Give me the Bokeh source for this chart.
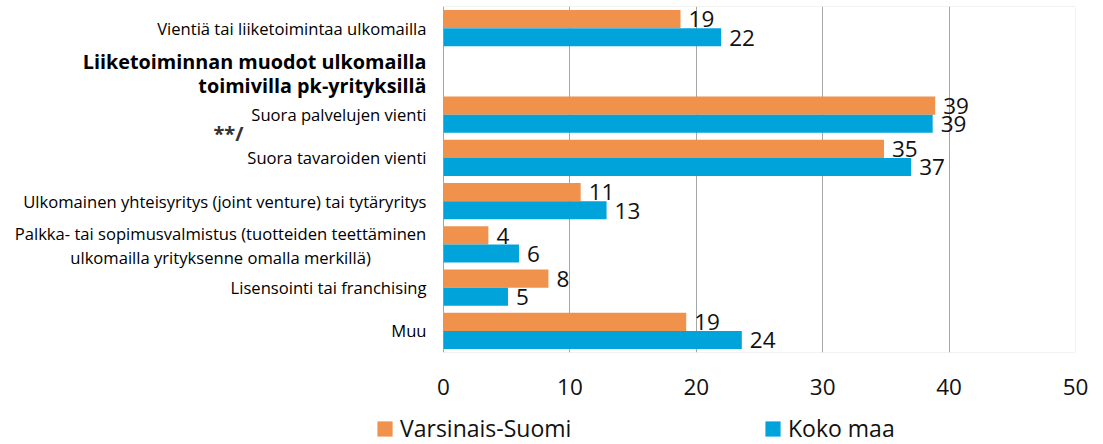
from bokeh.plotting import figure
from bokeh.layouts import column
from bokeh.models import (ColumnDataSource, FactorRange, Range1d, BoxAnnotation,
                          Legend, LegendItem, FixedTicker)
from bokeh.transform import dodge
from bokeh.embed import file_html
from bokeh.resources import INLINE
from bokeh.core.properties import value

# ---- data ----
categories = [
    "Vientiä tai liiketoimintaa ulkomailla",
    "Suora palvelujen vienti",
    "Suora tavaroiden vienti",
    "Ulkomainen yhteisyritys (joint venture) tai tytäryritys",
    "Palkka- tai sopimusvalmistus",
    "Lisensointi tai franchising",
    "Muu",
]
blank_slot = " "
slot_order = [categories[0], blank_slot] + categories[1:]
palkka_lines = ["Palkka- tai sopimusvalmistus (tuotteiden teettäminen",
                "ulkomailla yrityksenne omalla merkillä)"]
group_title = ["Liiketoiminnan muodot ulkomailla", "toimivilla pk-yrityksillä"]
note_text = "**/"

varsinais_suomi = [18.75, 38.9, 34.85, 10.85, 3.55, 8.3, 19.2]
koko_maa = [21.97, 38.7, 37.0, 12.9, 5.97, 5.1, 23.6]
series_names = ["Varsinais-Suomi", "Koko maa"]
x_ticks = [0, 10, 20, 30, 40, 50]
x_min, x_max = 0, 50
label_area = -35.05   # room for the category texts left of zero

ORANGE = "#F0924B"
BLUE = "#00A3DA"
FONT = "Open Sans"
CAT_SIZE = "16.6px"

src = ColumnDataSource(dict(
    cat=categories,
    vs=varsinais_suomi,
    km=koko_maa,
    vs_lbl=["%.0f" % v for v in varsinais_suomi],
    km_lbl=["%.0f" % v for v in koko_maa],
))

p = figure(width=1103, height=406, output_backend="svg", toolbar_location=None,
           x_range=Range1d(label_area, x_max),
           y_range=FactorRange(factors=slot_order[::-1]),
           min_border_left=0, min_border_right=28, min_border_top=6,
           min_border_bottom=54)
p.background_fill_color = "white"
p.border_fill_color = "white"
p.outline_line_color = None

p.add_layout(BoxAnnotation(left=x_min, right=x_max, fill_alpha=0,
                           line_color="#a6a6a6", line_width=1))

r_vs = p.hbar(y=dodge("cat", 0.21, range=p.y_range), right="vs", left=0,
              height=0.42, source=src, fill_color=ORANGE, line_color=None)
r_km = p.hbar(y=dodge("cat", -0.21, range=p.y_range), right="km", left=0,
              height=0.42, source=src, fill_color=BLUE, line_color=None)

p.text(x="vs", y=dodge("cat", 0.20, range=p.y_range), text="vs_lbl", source=src,
       x_offset=8, text_baseline="middle", text_align="left",
       text_font=value(FONT), text_font_size="22.5px", text_color="#111111")
p.text(x="km", y=dodge("cat", -0.22, range=p.y_range), text="km_lbl", source=src,
       x_offset=8, text_baseline="middle", text_align="left",
       text_font=value(FONT), text_font_size="22.5px", text_color="#111111")

# axes
p.yaxis.visible = False
p.xaxis.ticker = FixedTicker(ticks=x_ticks)
p.xaxis.axis_line_color = None
p.xaxis.major_tick_line_color = None
p.xaxis.minor_tick_line_color = None
p.xaxis.major_label_standoff = 20
p.xaxis.major_label_text_font = FONT
p.xaxis.major_label_text_font_size = "22.5px"
p.xaxis.major_label_text_color = "#111111"
p.xgrid.ticker = FixedTicker(ticks=x_ticks)
p.xgrid.grid_line_color = "#a6a6a6"
p.ygrid.grid_line_color = None

# category labels (left of zero)
single = [c for c in categories if c != "Palkka- tai sopimusvalmistus"]
p.text(x="x", y="y", text="t",
       source=ColumnDataSource(dict(y=single, x=[x_min] * len(single), t=single)),
       x_offset=-17, text_align="right", text_baseline="middle",
       text_font=value(FONT), text_font_size=CAT_SIZE, text_color="#000000")

p.text(x="x", y=dodge("y", 0.26, range=p.y_range), text="t",
       source=ColumnDataSource(dict(y=["Palkka- tai sopimusvalmistus"], x=[x_min],
                                    t=[palkka_lines[0]])),
       x_offset=-223, text_align="center", text_baseline="middle",
       text_font=value(FONT), text_font_size=CAT_SIZE, text_color="#000000")
p.text(x="x", y=dodge("y", -0.30, range=p.y_range), text="t",
       source=ColumnDataSource(dict(y=["Palkka- tai sopimusvalmistus"], x=[x_min],
                                    t=[palkka_lines[1]])),
       x_offset=-223, text_align="center", text_baseline="middle",
       text_font=value(FONT), text_font_size=CAT_SIZE, text_color="#000000")

p.text(x="x", y=dodge("y", 0.23, range=p.y_range), text="t",
       source=ColumnDataSource(dict(y=[blank_slot], x=[x_min], t=[group_title[0]])),
       x_offset=-17, text_align="right", text_baseline="middle",
       text_font=value(FONT), text_font_size="19.8px", text_font_style="bold",
       text_color="#000000")
p.text(x="x", y=dodge("y", -0.33, range=p.y_range), text="t",
       source=ColumnDataSource(dict(y=[blank_slot], x=[x_min], t=[group_title[1]])),
       x_offset=-17, text_align="right", text_baseline="middle",
       text_font=value(FONT), text_font_size="19.8px", text_font_style="bold",
       text_color="#000000")
p.text(x="x", y=dodge("y", -0.43, range=p.y_range), text="t",
       source=ColumnDataSource(dict(y=[categories[1]], x=[x_min], t=[note_text])),
       x_offset=-200, text_align="right", text_baseline="middle",
       text_font=value(FONT), text_font_size="20px", text_font_style="bold",
       text_color="#333333")

# ---- legend strip below the chart ----
leg = figure(width=1103, height=38, output_backend="svg", toolbar_location=None,
             x_range=Range1d(0, 1), y_range=Range1d(0, 1),
             min_border_left=0, min_border_right=0, min_border_top=0,
             min_border_bottom=0)
leg.outline_line_color = None
leg.axis.visible = False
leg.grid.visible = False
hidden = ColumnDataSource(dict(l=[-5], r=[-4], b=[-5], t=[-4]))
g_vs = leg.quad(left="l", right="r", bottom="b", top="t", source=hidden,
                fill_color=ORANGE, line_color=None)
g_km = leg.quad(left="l", right="r", bottom="b", top="t", source=hidden,
                fill_color=BLUE, line_color=None)
for g, name, xloc in [(g_vs, series_names[0], 375), (g_km, series_names[1], 763)]:
    lg = Legend(items=[LegendItem(label=name, renderers=[g])], location=(xloc, 0),
                glyph_width=19, glyph_height=19,
                label_text_font=FONT, label_text_font_size="23px",
                label_text_color="#111111", label_standoff=6, padding=0, margin=0,
                border_line_color=None, background_fill_alpha=0, spacing=0)
    leg.add_layout(lg, "center")

layout = column(p, leg, spacing=0)
open("out.html", "w").write(file_html(layout, INLINE))
